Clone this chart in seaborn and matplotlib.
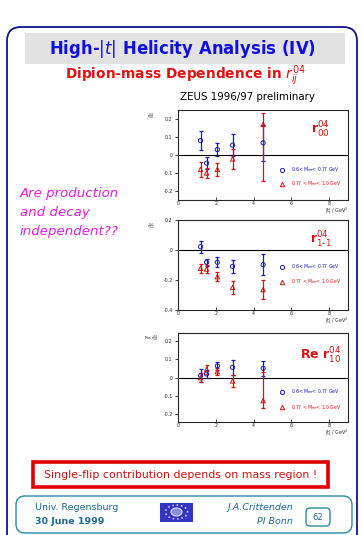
import matplotlib
matplotlib.use("Agg")
import matplotlib.pyplot as plt
import seaborn as sns
import pandas as pd
import numpy as np
from matplotlib.patches import FancyBboxPatch, Rectangle, Ellipse

sns.set_style("ticks")
plt.rcParams['font.family'] = ['DejaVu Sans']

W, H = 363, 535

# |t| bin centres (GeV^2)
t_vals = [1.18, 1.5, 2.07, 2.88, 4.5]

# r^04_00
r00_lo = [0.08, -0.045, 0.03, 0.055, 0.068]
r00_lo_err = [0.053, 0.035, 0.035, 0.063, 0.10]
r00_hi = [-0.08, -0.10, -0.08, -0.022, 0.17]
r00_hi_err_dn = [0.04, 0.03, 0.037, 0.058, 0.315]
r00_hi_err_up = [0.04, 0.03, 0.037, 0.058, 0.066]

# r^04_1-1
r1m1_lo = [0.022, -0.082, -0.082, -0.109, -0.098]
r1m1_lo_err = [0.039, 0.024, 0.033, 0.043, 0.07]
r1m1_hi = [-0.122, -0.127, -0.178, -0.249, -0.264]
r1m1_hi_err = [0.03, 0.025, 0.03, 0.044, 0.061]

# Re r^04_10
r10_lo = [0.011, 0.02, 0.064, 0.056, 0.051]
r10_lo_err = [0.036, 0.02, 0.021, 0.042, 0.042]
r10_hi = [0.0, 0.045, 0.033, -0.018, -0.125]
r10_hi_err_dn = [0.025, 0.023, 0.02, 0.035, 0.042]
r10_hi_err_up = [0.025, 0.023, 0.02, 0.035, 0.154]

BLUE = '#1a1ab4'
RED = '#d41414'
lab_lo = r'0.6< M$_{\pi\pi}$< 0.77 GeV'
lab_hi = r'0.77 < M$_{\pi\pi}$< 1.0 GeV'

fig = plt.figure(figsize=(W / 100, H / 100), dpi=100)
fig.patch.set_facecolor('white')

# background "slide" axes in pixel coordinates
bg = fig.add_axes([0, 0, 1, 1], zorder=0)
bg.set_xlim(0, W)
bg.set_ylim(H, 0)
bg.axis('off')

bg.add_patch(FancyBboxPatch((7, 27), 350, 530, boxstyle="round,pad=0,rounding_size=14",
                            fc='none', ec='#14148a', lw=1.3))
bg.add_patch(Rectangle((25, 33), 320, 31, fc='#e2e2e2', ec='none'))
bg.text(183, 48.5, r'High-$|t|$ Helicity Analysis (IV)', color='#1010d8', fontsize=11.9,
        fontweight='bold', ha='center', va='center')
bg.text(185, 76, r'Dipion-mass Dependence in $r^{04}_{ij}$', color='#e01010', fontsize=9.9,
        fontweight='bold', ha='center', va='center')
bg.text(248, 97, 'ZEUS 1996/97 preliminary', color='black', fontsize=7.4, ha='center', va='center')

for i, line in enumerate(['Are production', 'and decay', 'independent??']):
    bg.text(20, 193 + 19.5 * i, line, color='#e020e0', fontsize=9.6, style='italic',
            ha='left', va='center')

# conclusion box
bg.add_patch(Rectangle((33, 462), 295, 25, fc='white', ec='#e00000', lw=2.6))
bg.text(181, 474.5, 'Single-flip contribution depends on mass region !', color='#d01010',
        fontsize=7.95, ha='center', va='center')

# footer
TEAL = '#2b8aa6'
FT = '#1c6a96'
bg.add_patch(FancyBboxPatch((16, 496), 336, 37, boxstyle="round,pad=0,rounding_size=9",
                            fc='white', ec=TEAL, lw=1.0))
bg.text(35, 507.5, 'Univ. Regensburg', color=FT, fontsize=6.8, ha='left', va='center')
bg.text(35, 522, '30 June 1999', color=FT, fontsize=6.8, fontweight='bold', ha='left', va='center')
bg.add_patch(Rectangle((160, 502.5), 33, 19.5, fc='#3434c4', ec='none'))
bg.add_patch(Ellipse((176.5, 512), 22, 14, fc='none', ec='#c8c8f0', lw=1.2, ls=':'))
bg.add_patch(Ellipse((176.5, 512), 11, 8, fc='#8c8ce0', ec='#dcdcf8', lw=0.8))
bg.text(293, 507.5, 'J.A.Crittenden', color=FT, fontsize=6.8, style='italic', ha='right', va='center')
bg.text(293, 522, 'PI Bonn', color=FT, fontsize=6.8, style='italic', ha='right', va='center')
bg.add_patch(FancyBboxPatch((306, 508), 24, 18, boxstyle="round,pad=0,rounding_size=4",
                            fc='white', ec=TEAL, lw=1.0))
bg.text(318, 517, '62', color=FT, fontsize=6.0, ha='center', va='center')


def px_rect(left, top, right, bottom):
    return [left / W, 1 - bottom / H, (right - left) / W, (bottom - top) / H]


panels = [
    dict(rect=px_rect(178.3, 110, 348, 200), ylim=(-0.25, 0.25),
         yticks=[-0.2, -0.1, 0, 0.1, 0.2], lo=r00_lo, lo_err=r00_lo_err,
         hi=r00_hi, hi_err=[r00_hi_err_dn, r00_hi_err_up],
         label=r'r$^{04}_{00}$', lab_pos=(0.84, 0.78), lab_size=9,
         ylab=r'r$^{04}_{00}$', leg_y=(0.333, 0.178)),
    dict(rect=px_rect(178.3, 220, 348, 310), ylim=(-0.4, 0.2),
         yticks=[-0.4, -0.2, 0, 0.2], lo=r1m1_lo, lo_err=r1m1_lo_err,
         hi=r1m1_hi, hi_err=r1m1_hi_err,
         label=r'r$^{04}_{1\text{-}1}$', lab_pos=(0.84, 0.78), lab_size=9,
         ylab=r'r$^{04}_{1\text{-}1}$', leg_y=(0.48, 0.314)),
    dict(rect=px_rect(178.3, 332.7, 348, 421.7), ylim=(-0.24, 0.245),
         yticks=[-0.2, -0.1, 0, 0.1, 0.2], lo=r10_lo, lo_err=r10_lo_err,
         hi=r10_hi, hi_err=[r10_hi_err_dn, r10_hi_err_up],
         label=r'Re r$^{04}_{10}$', lab_pos=(0.84, 0.74), lab_size=9,
         ylab=r'Re r$^{04}_{10}$', leg_y=(0.337, 0.16)),
]

for p in panels:
    ax = fig.add_axes(p['rect'], zorder=2)
    df = pd.DataFrame({
        't': t_vals * 2,
        'r': list(p['lo']) + list(p['hi']),
        'bin': [lab_lo] * 5 + [lab_hi] * 5,
    })
    ax.axhline(0, color='black', lw=0.8, zorder=1)
    ax.errorbar(t_vals, p['lo'], yerr=p['lo_err'], fmt='none', ecolor=BLUE,
                elinewidth=0.9, capsize=1.6, capthick=0.9, zorder=2)
    ax.errorbar(t_vals, p['hi'], yerr=p['hi_err'], fmt='none', ecolor=RED,
                elinewidth=0.9, capsize=1.6, capthick=0.9, zorder=2)
    sns.scatterplot(data=df[df['bin'] == lab_lo], x='t', y='r', marker='o', s=9,
                    facecolors='none', edgecolor=BLUE, linewidth=0.7, ax=ax, zorder=3)
    sns.scatterplot(data=df[df['bin'] == lab_hi], x='t', y='r', marker='^', s=10,
                    facecolors='none', edgecolor=RED, linewidth=0.7, ax=ax, zorder=3)
    ax.set_xlim(0, 9)
    ax.set_ylim(*p['ylim'])
    ax.set_xticks([0, 2, 4, 6, 8])
    ax.set_xticklabels(['0', '2', '4', '6', '8'])
    ax.set_yticks(p['yticks'])
    ax.set_yticklabels(['%g' % v for v in p['yticks']])
    ax.tick_params(labelsize=3.4, length=2.5, width=0.6, pad=1.5, direction='out')
    ax.tick_params(axis='x', direction='in', pad=1)
    ax.set_xlabel('')
    ax.set_ylabel('')
    for sp in ax.spines.values():
        sp.set_linewidth(0.8)
        sp.set_visible(True)
    ax.text(p['lab_pos'][0], p['lab_pos'][1], p['label'], transform=ax.transAxes,
            color=RED, fontsize=p['lab_size'], fontweight='bold', ha='center', va='center')
    ax.text(1.0, -0.12, r'|t| / GeV$^2$', transform=ax.transAxes, fontsize=3.4,
            ha='right', va='center')
    ax.text(-0.16, 0.93, p['ylab'], transform=ax.transAxes, fontsize=3.2,
            ha='center', va='center')
    # legend drawn as marker + text rows
    ax.plot([0.61], [p['leg_y'][0]], marker='o', ms=3, mfc='none', mec=BLUE, mew=0.7,
            transform=ax.transAxes, ls='none')
    ax.plot([0.61], [p['leg_y'][1]], marker='^', ms=3.2, mfc='none', mec=RED, mew=0.7,
            transform=ax.transAxes, ls='none')
    ax.text(0.665, p['leg_y'][0], lab_lo, transform=ax.transAxes, fontsize=3.3,
            color=BLUE, ha='left', va='center')
    ax.text(0.665, p['leg_y'][1], lab_hi, transform=ax.transAxes, fontsize=3.3,
            color=RED, ha='left', va='center')
    if ax.get_legend() is not None:
        ax.get_legend().remove()

fig.savefig('out.png', dpi=100, facecolor='white')
